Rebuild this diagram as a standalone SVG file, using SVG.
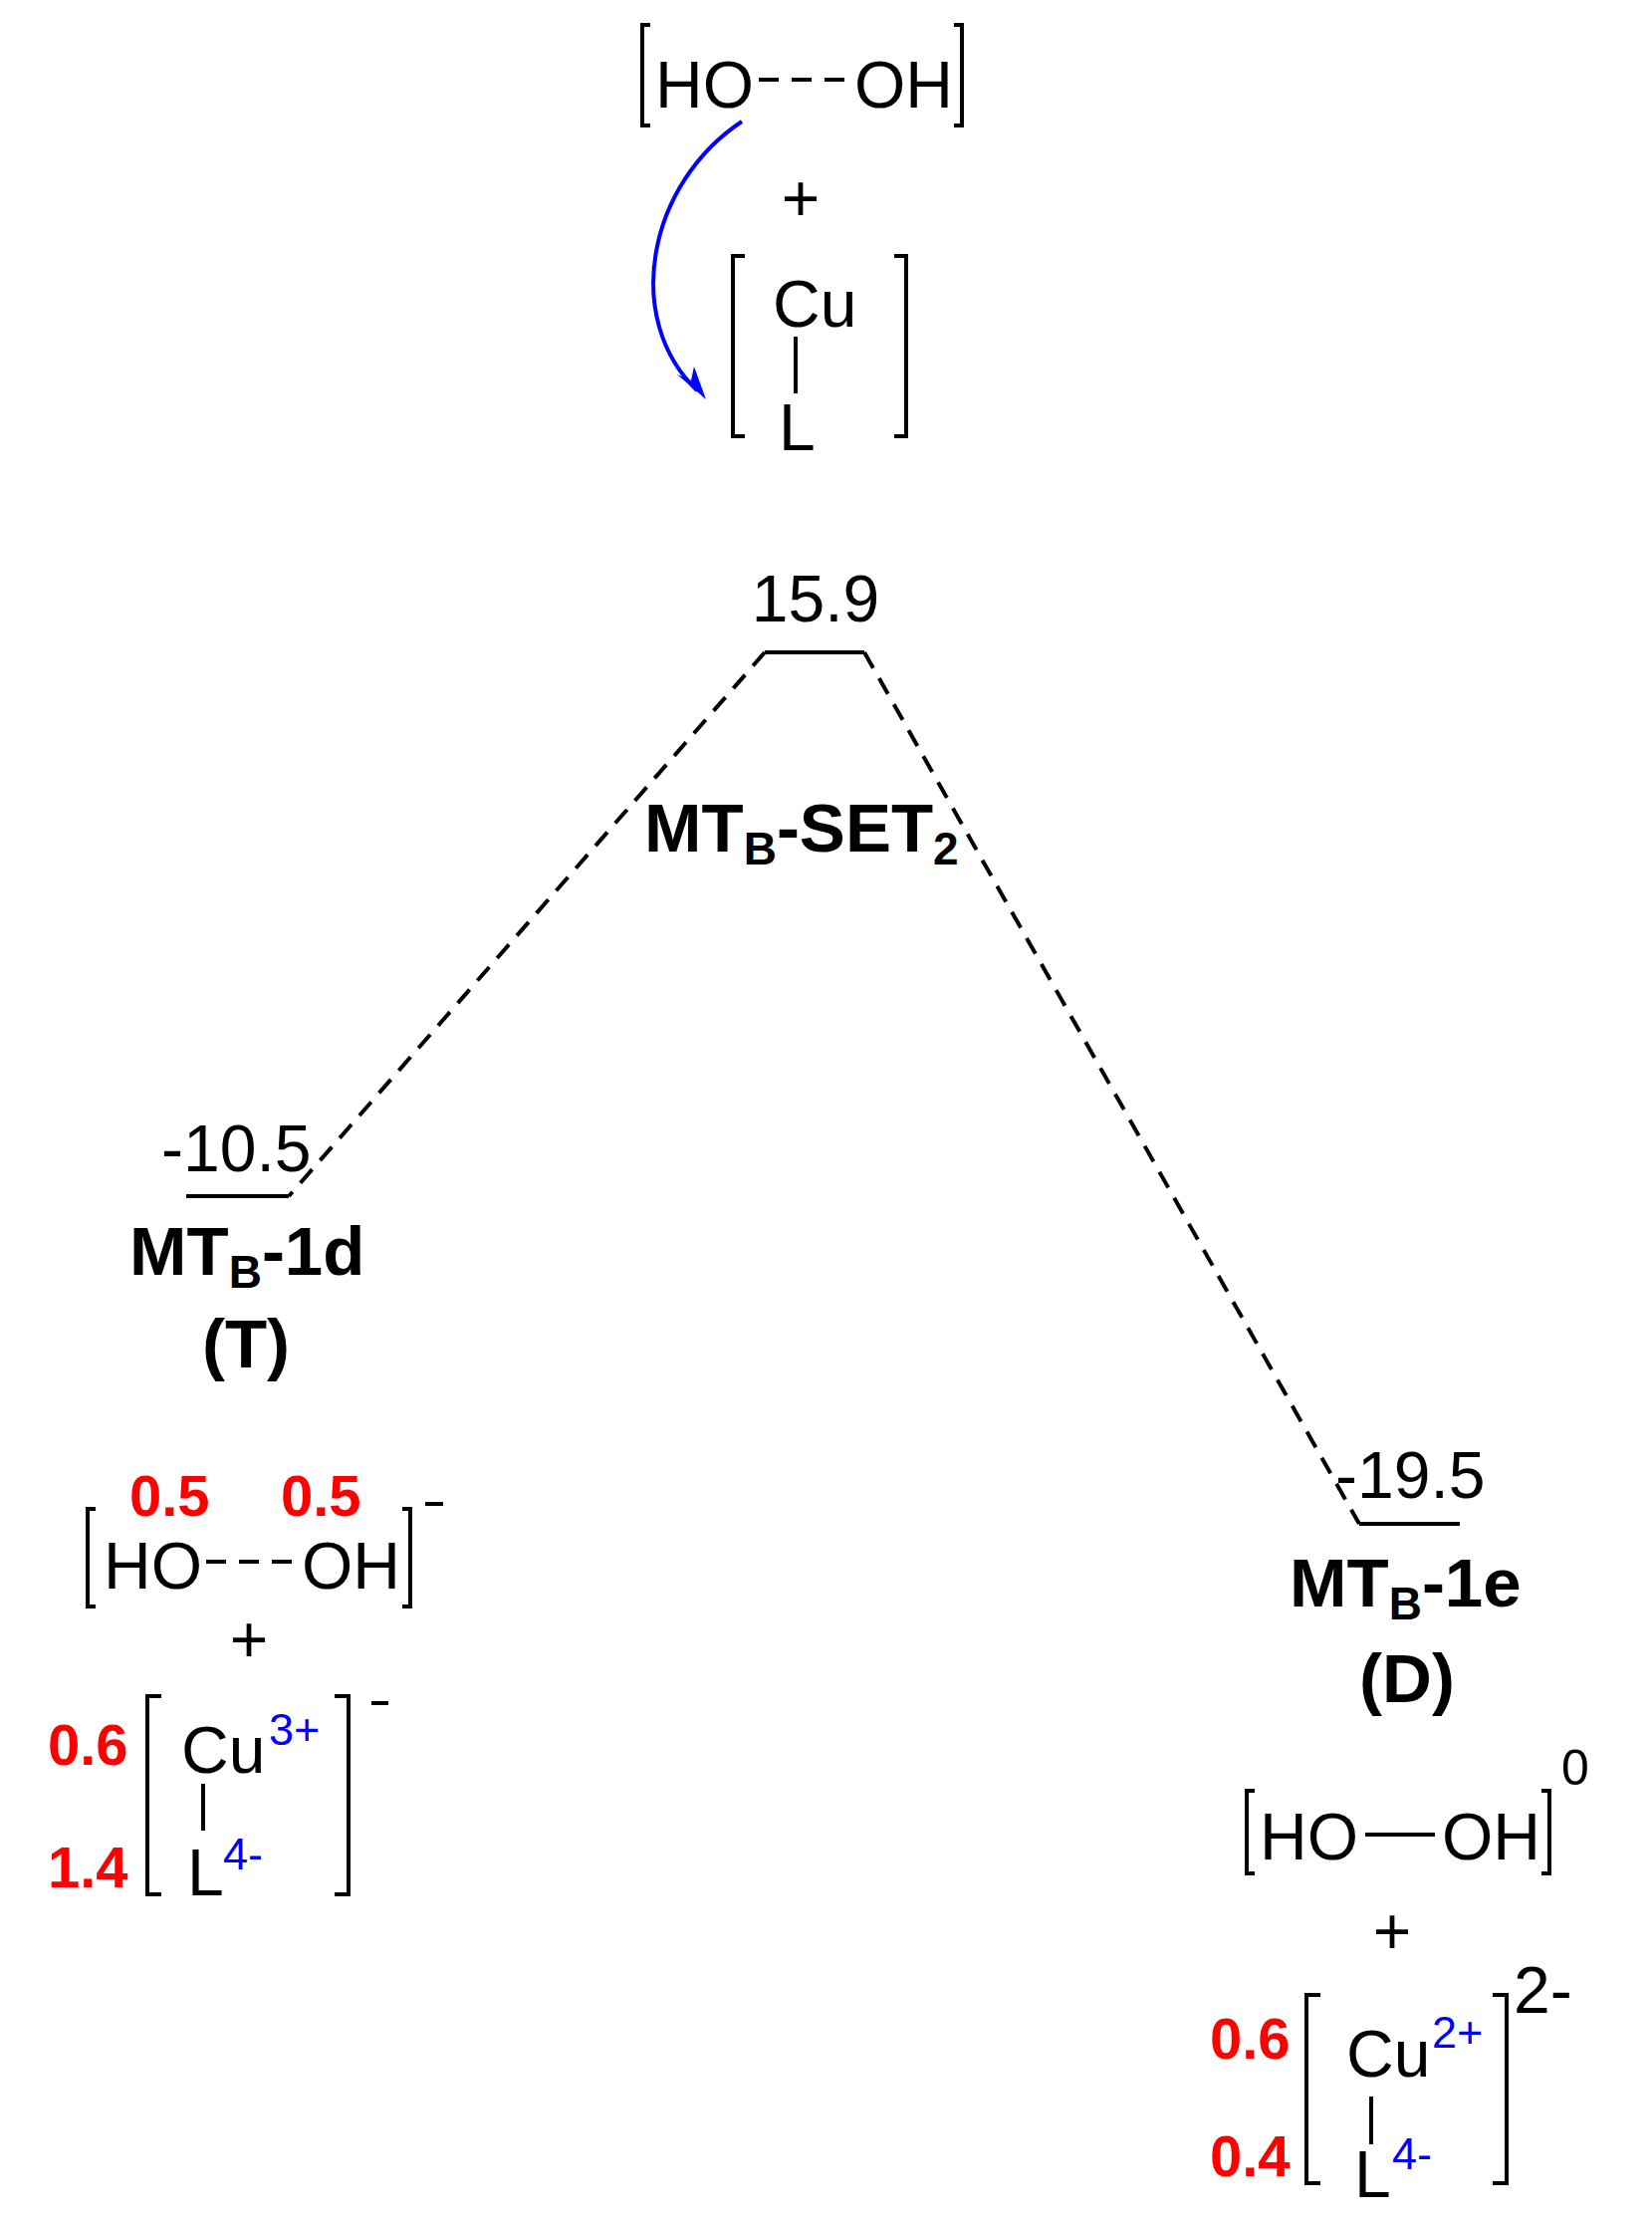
<svg xmlns="http://www.w3.org/2000/svg" width="1659" height="2233" viewBox="0 0 1659 2233">
<style>
text{font-family:"Liberation Sans",Arial,sans-serif;fill:#000}
.r{font-size:66px}
.b{font-size:69px;font-weight:bold}
.sub{font-size:46px;font-weight:bold}
.red{fill:#f00;font-weight:bold;font-size:58px}
.blue{fill:#00f;font-size:45px}
.sup{font-size:50px}
.br{fill:none;stroke:#000;stroke-width:4}
.ln{stroke:#000;stroke-width:4;fill:none}
.dash{stroke:#000;stroke-width:4;fill:none;stroke-dasharray:18 12}
</style>
<rect width="1659" height="2233" fill="#fff"/>
<g id="reactants">
<path class="br" d="M653,25 H645 V126 H653 M958,25 H966 V126 H958"/>
<text class="r" x="658" y="108">HO</text>
<path class="ln" d="M762,80 H782 M795,80 H815 M828,80 H848" />
<text class="r" x="858" y="108">OH</text>
<text class="r" x="804" y="222" text-anchor="middle">+</text>
<path class="br" d="M748,257 H736 V438 H748 M898,257 H910 V438 H898"/>
<text class="r" x="776" y="328">Cu</text>
<path class="ln" d="M799,338 V395"/>
<text class="r" x="782" y="452">L</text>
<path d="M745,122 C650,185 625,320 700,392" fill="none" stroke="#00f" stroke-width="4"/>
<polygon points="709,401 680,376 694,382 697,368" fill="#00f"/>
</g>
<g id="connectors">
<path class="dash" d="M768,655 L290,1201"/>
<path class="dash" d="M868,655 L1365,1530"/>
</g>
<g id="ts">
<path class="ln" d="M768,655 H868"/>
<text class="r" x="819" y="624" text-anchor="middle">15.9</text>
<text class="b" x="647" y="855">MT<tspan class="sub" dy="13">B</tspan><tspan dy="-13">-SET</tspan><tspan class="sub" dy="13">2</tspan></text>
</g>
<g id="mtb1d">
<path class="ln" d="M187,1201 H290"/>
<text class="r" x="162" y="1176">-10.5</text>
<text class="b" x="130" y="1280">MT<tspan class="sub" dy="13">B</tspan><tspan dy="-13">-1d</tspan></text>
<text class="b" x="247" y="1373" text-anchor="middle">(T)</text>
<text class="red" x="130" y="1522">0.5</text>
<text class="red" x="282" y="1522">0.5</text>
<path class="br" d="M96,1515 H88 V1613 H96 M404,1515 H412 V1613 H404"/>
<text class="r" x="104" y="1595">HO</text>
<path class="ln" d="M207,1568 H227 M240,1568 H260 M273,1568 H293"/>
<text class="r" x="303" y="1595">OH</text>
<path class="ln" d="M427,1510 H445"/>
<text class="r" x="250" y="1669" text-anchor="middle">+</text>
<text class="red" x="48" y="1772">0.6</text>
<text class="red" x="48" y="1895">1.4</text>
<path class="br" d="M162,1703 H148 V1902 H162 M336,1703 H350 V1902 H336"/>
<path class="ln" d="M373,1710 H390"/>
<text class="r" x="182" y="1780">Cu</text>
<text class="blue" x="270" y="1752">3+</text>
<path class="ln" d="M204,1791 V1838"/>
<text class="r" x="188" y="1903">L</text>
<text class="blue" x="224" y="1877">4-</text>
</g>
<g id="mtb1e" transform="translate(-7,-12)">
<path class="ln" d="M1372,1542 H1473"/>
<text class="r" x="1348" y="1516">-19.5</text>
<text class="b" x="1302" y="1625">MT<tspan class="sub" dy="13">B</tspan><tspan dy="-13">-1e</tspan></text>
<text class="b" x="1420" y="1721" text-anchor="middle">(D)</text>
<path class="br" d="M1267,1810 H1259 V1893 H1267 M1555,1810 H1563 V1893 H1555"/>
<text class="r" x="1272" y="1879">HO</text>
<path class="ln" d="M1378,1854 H1448"/>
<text class="r" x="1455" y="1879">OH</text>
<text class="sup" x="1575" y="1804">0</text>
<text class="r" x="1405" y="1974" text-anchor="middle">+</text>
<text class="red" x="1222" y="2079">0.6</text>
<text class="red" x="1222" y="2197">0.4</text>
<path class="br" d="M1333,2015 H1319 V2204 H1333 M1506,2015 H1520 V2204 H1506"/>
<text class="r" x="1527" y="2033">2-</text>
<text class="r" x="1359" y="2097">Cu</text>
<text class="blue" x="1445" y="2068">2+</text>
<path class="ln" d="M1384,2117 V2165"/>
<text class="r" x="1367" y="2218">L</text>
<text class="blue" x="1405" y="2190">4-</text>
</g>
</svg>
